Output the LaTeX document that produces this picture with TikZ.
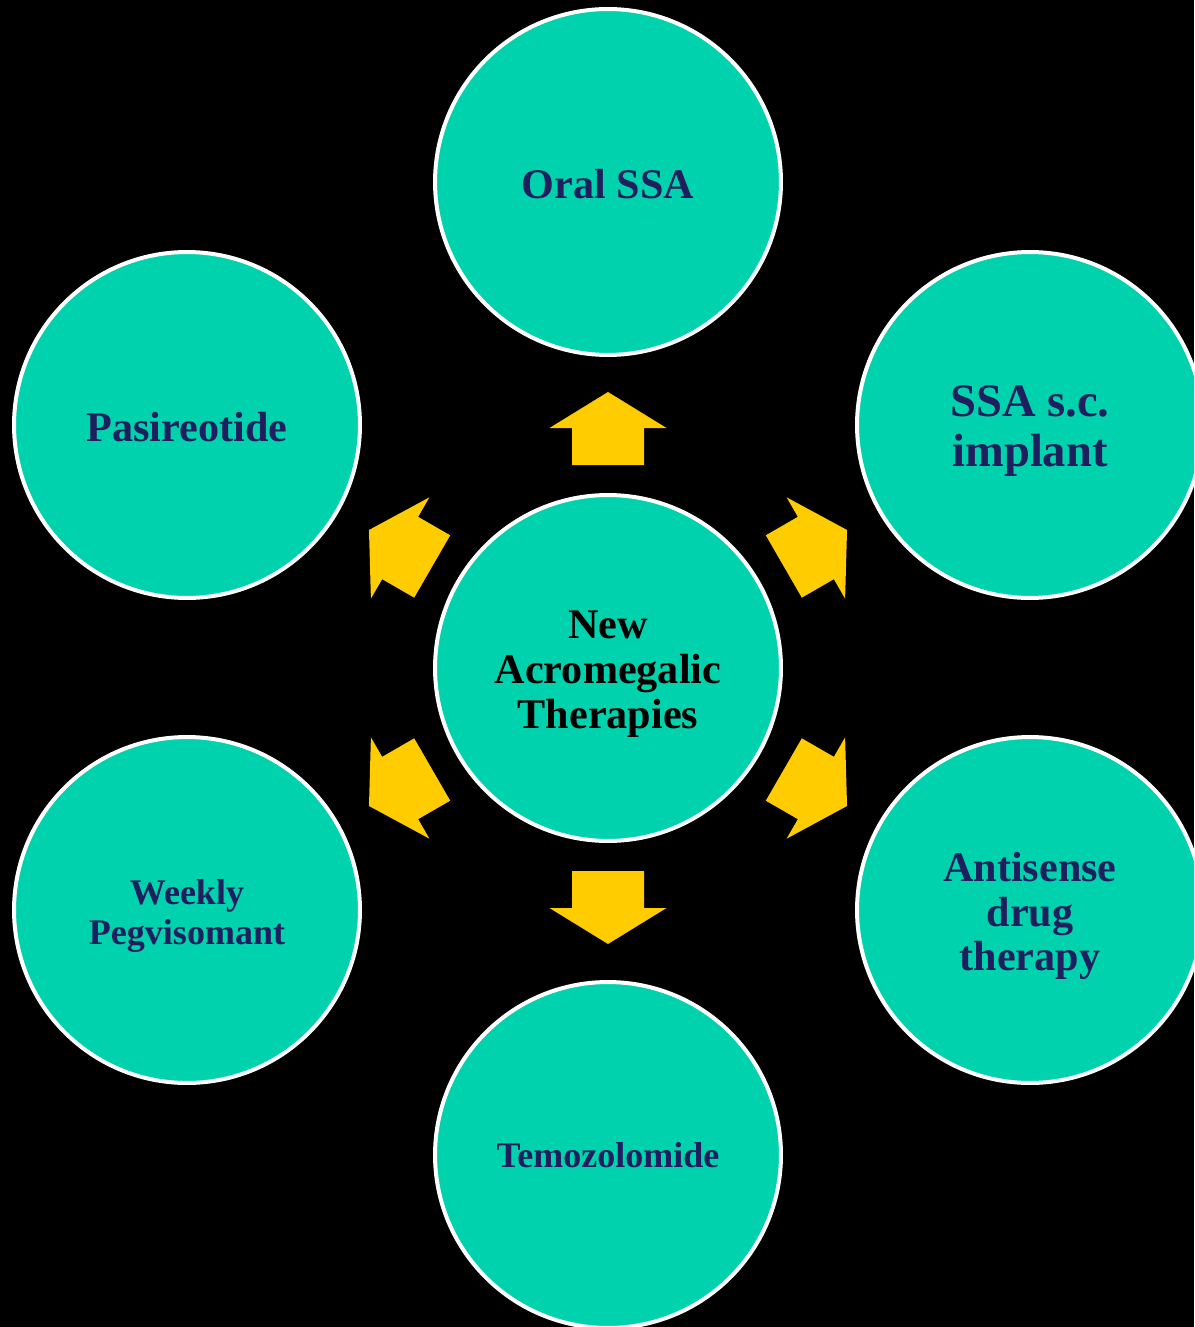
\documentclass[tikz,border=0pt]{standalone}
\usepackage{fontspec}
\setmainfont{Liberation Serif}
\usetikzlibrary{positioning}
\definecolor{tealfill}{HTML}{00D2AD}
\definecolor{navytext}{HTML}{1F1F5F}
\definecolor{blockyellow}{HTML}{FFCC00}

\begin{document}
\begin{tikzpicture}[x=0.02cm,y=-0.02cm,
  therapy/.style={circle,draw=white,line width=0.08cm,fill=tealfill,
    minimum size=6.92cm,inner sep=0pt},
  thtext/.style={align=center,text=navytext,yshift=-0.04cm,
    font=\bfseries\fontsize{24}{25.5}\selectfont},
  thmulti/.style={thtext,yshift=-0.08cm},
  bigtext/.style={font=\bfseries\fontsize{26.5}{28.5}\selectfont},
  smalltext/.style={font=\bfseries\fontsize{20.5}{22.7}\selectfont}]
  \fill[black] (0,0) rectangle (1194,1327);
  \useasboundingbox (0,0) rectangle (1194,1327);
  \clip (0,0) rectangle (1194,1327);
  % hub in the middle, six therapies round it
  \node[therapy,label={[thmulti,text=black]center:{New\\Acromegalic\\Therapies}}] (hub) at (608,668) {};
  \node[therapy,label={[thtext]center:{Oral SSA}}] (oral) at (608,182) {};
  \node[therapy,label={[thmulti,bigtext]center:{SSA s.c.\\implant}}] (implant) at (1030,425) {};
  \node[therapy,label={[thmulti]center:{Antisense\\drug\\therapy}}] (antisense) at (1030,910) {};
  \node[therapy,label={[thtext,smalltext,yshift=0.04cm]center:{Temozolomide}}] (temo) at (608,1155) {};
  \node[therapy,label={[thmulti,smalltext]center:{Weekly\\Pegvisomant}}] (pegv) at (187,910) {};
  \node[therapy,label={[thtext]center:{Pasireotide}}] (pasi) at (187,425) {};
  % block arrows pointing out from the hub
  \foreach \a in {30,90,150,210,270,330} {
    \begin{scope}[shift={(hub.center)},rotate=\a]
      \fill[blockyellow] (203,-36) -- (240,-36) -- (240,-58.5) -- (276,0)
        -- (240,58.5) -- (240,36) -- (203,36) -- cycle;
    \end{scope}
  }
\end{tikzpicture}
\end{document}
